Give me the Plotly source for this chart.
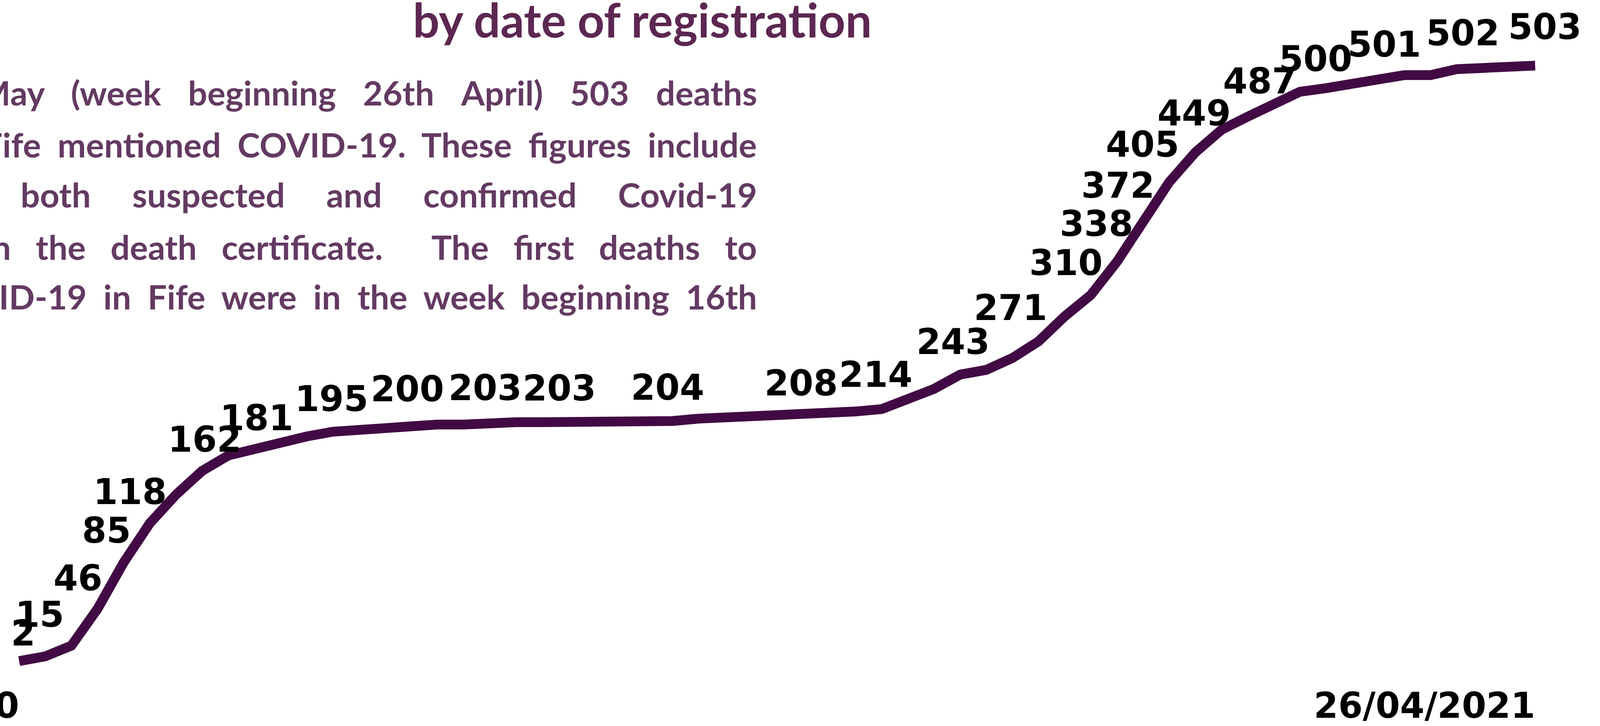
import plotly.graph_objects as go
import pandas as pd

# ---------------- data ----------------
week_start = pd.date_range("2020-03-16", periods=59, freq="7D")
cumulative_deaths = [2, 6, 15, 46, 85, 118, 142, 162, 175, 181, 187, 191, 195, 197, 199,
                     200, 201, 201, 203, 203, 203, 203, 203, 203, 203, 204, 206, 207, 207,
                     208, 208, 211, 212, 214, 222, 231, 243, 247, 257, 271, 292, 310, 338,
                     372, 405, 430, 449, 460, 471, 481, 484, 487, 491, 495, 495, 500, 501,
                     502, 503]
labelled_weeks = [0, 2, 3, 4, 5, 7, 9, 12, 15, 18, 21, 25, 30, 33, 36, 39, 41, 42, 43, 44,
                  46, 51, 55, 56, 57, 58]
tick_weeks = [0, 58]

title_text = "by date of registration"
para_lines = [
    ["As", "at", "2nd", "May", "(week", "beginning", "26th", "April)", "503", "deaths"],
    ["registered", "in", "Fife", "mentioned", "COVID-19.", "These", "figures", "include"],
    ["all", "deaths", "where", "both", "suspected", "and", "confirmed", "Covid-19"],
    ["was", "mentioned", "on", "the", "death", "certificate.", "", "The", "first", "deaths", "to"],
    ["mention", "COVID-19", "in", "Fife", "were", "in", "the", "week", "beginning", "16th"],
]

# ---------------- styling ----------------
W, H = 4143, 1858
MB = 112
LINE_COLOR = "#420a44"
TITLE_COLOR = "#5c2751"
PARA_COLOR = "#633a62"
LABEL_FONT = dict(family="DejaVu Sans", size=90, color="#000000", weight=700)

# label offsets (px) relative to their data point
label_shift = [(10, 71), (-81, 80), (-50, 79), (-44, 82), (-51, 81), (7, 81), (6, 78), (-3, 84),
               (-10, 94), (-11, 88), (-22, 87), (-13, 86), (-5, 85), (-15, 89), (-18, 84),
               (-72, 86), (-63, 82), (-52, 97), (-64, 92), (-68, 96), (-70, 43), (-237, 9),
               (-361, 27), (-252, 60), (-118, 86), (25, 99)]
para_gaps = ["\u00a0\u00a0\u00a0\u200a", "\u00a0\u00a0", "\u00a0" * 5, "\u00a0" * 3, "\u00a0\u00a0"]
para_y = [237, 369, 497, 631, 758]

x = list(range(len(cumulative_deaths)))

fig = go.Figure()
fig.add_trace(go.Scatter(
    x=x, y=cumulative_deaths, mode="lines",
    line=dict(color=LINE_COLOR, width=25),
    hoverinfo="skip", showlegend=False,
))

for (i, (dx, dy)) in zip(labelled_weeks, label_shift):
    fig.add_annotation(x=i, y=cumulative_deaths[i], xref="x", yref="y",
                       text=str(cumulative_deaths[i]), showarrow=False,
                       xanchor="center", yanchor="middle", xshift=dx, yshift=dy,
                       font=LABEL_FONT)

plot_h = H - MB
# title
fig.add_annotation(x=1644 / W, y=1 - 50 / plot_h, xref="paper", yref="paper",
                   text=title_text, showarrow=False, xanchor="center", yanchor="middle",
                   font=dict(family="Lato", size=120, color=TITLE_COLOR, weight=700))
# paragraph (justified look, right edge fixed, left part clipped by the page)
for words, gap, yy in zip(para_lines, para_gaps, para_y):
    txt = gap.join(words)
    fig.add_annotation(x=1940 / W, y=1 - yy / plot_h, xref="paper", yref="paper",
                       text=txt, showarrow=False, xanchor="right", yanchor="middle",
                       font=dict(family="Lato", size=87, color=PARA_COLOR, weight=700))

px_per_week = (3930 - 49) / 58
xmin = -49 / px_per_week
xmax = xmin + W / px_per_week
k = 3.042
ymax = 1698 / k
ymin = ymax - plot_h / k

fig.update_layout(
    width=W, height=H,
    margin=dict(l=0, r=0, t=0, b=MB, autoexpand=False),
    paper_bgcolor="white", plot_bgcolor="white",
    xaxis=dict(range=[xmin, xmax], showgrid=False, zeroline=False, showline=False,
               automargin=False,
               tickvals=tick_weeks,
               ticktext=[week_start[i].strftime("%d/%m/%Y") for i in tick_weeks],
               ticks="", ticklabelposition="outside left", ticklabeloverflow="allow",
               tickfont=LABEL_FONT),
    yaxis=dict(range=[ymin, ymax], visible=False, automargin=False),
)

fig.write_html("out.html", config={"displayModeBar": False},
               post_script="document.body.style.margin='0';document.body.style.overflow='hidden';")
